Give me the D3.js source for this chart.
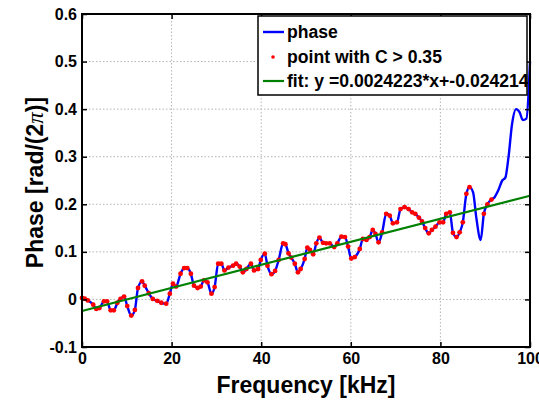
<!DOCTYPE html>
<html><head><meta charset="utf-8">
<script src="https://cdn.jsdelivr.net/npm/d3@7"></script>
<style>body{margin:0;background:#fff}svg{display:block}</style>
</head><body>
<svg id="c" width="539" height="405"></svg>
<script>
// ---- data ----
const freq = [0.0,0.6,1.3,2.5,3.2,3.9,4.9,5.6,6.4,7.1,7.9,8.6,9.4,10.1,11.0,11.8,12.5,13.4,14.0,14.9,15.8,16.8,17.7,18.8,19.6,
  20.3,21.0,22.0,22.8,23.5,24.3,25.0,25.8,26.5,27.2,28.0,28.9,29.6,30.4,31.1,31.8,32.7,33.7,34.4,35.2,35.9,36.7,37.7,38.4,39.3,39.9,
  40.8,41.4,42.3,43.1,43.9,44.9,45.4,46.1,46.7,47.5,48.2,48.8,49.7,50.3,50.9,51.6,52.3,53.0,53.8,54.5,55.3,56.3,57.0,57.9,58.7,59.4,
  60.1,60.9,62.0,62.7,63.5,64.2,64.9,65.5,66.2,67.0,67.9,68.7,69.4,70.3,71.1,72.0,72.9,73.7,74.4,75.2,75.9,76.6,77.4,78.1,78.9,79.8,
  80.6,81.3,82.1,82.8,83.6,84.3,85.0,85.8,86.5,87.3,88.0,89.0,89.7,90.5,91.4,92.1,92.9,93.8,94.5,95.2,96.0,96.9,97.7,98.4,99.2,100.0];
const phase = [0.003,0.0015,-0.002,-0.011,-0.020,-0.018,-0.004,-0.004,-0.023,-0.023,-0.007,0.001,0.006,-0.014,-0.034,-0.022,0.024,0.038,0.029,0.013,0.001,-0.003,-0.007,-0.009,0.012,
  0.033,0.027,0.054,0.066,0.066,0.054,0.029,0.024,0.027,0.040,0.036,0.012,0.026,0.075,0.075,0.061,0.067,0.071,0.075,0.069,0.057,0.064,0.075,0.061,0.064,0.083,
  0.096,0.071,0.053,0.060,0.083,0.118,0.116,0.097,0.088,0.075,0.057,0.064,0.085,0.109,0.104,0.095,0.118,0.130,0.119,0.118,0.118,0.110,0.118,0.132,0.131,0.111,
  0.086,0.089,0.106,0.127,0.125,0.131,0.146,0.138,0.120,0.141,0.180,0.176,0.160,0.162,0.190,0.194,0.190,0.183,0.180,0.172,0.164,0.150,0.139,0.146,0.153,0.162,
  0.162,0.180,0.183,0.140,0.131,0.141,0.162,0.222,0.236,0.225,0.173,0.125,0.180,0.200,0.210,0.215,0.229,0.250,0.256,0.299,0.369,0.400,0.393,0.377,0.380,0.500];
// 1 = point with C > 0.35 (red marker)
const marked = [1,1,1,1,1,1,1,1,1,1,1,1,1,1,1,1,1,1,1,1,1,1,1,1,1,
  1,1,1,1,1,1,1,1,1,1,1,1,1,1,1,1,1,1,1,1,1,1,1,1,1,1,
  1,1,1,1,1,1,1,1,1,1,1,1,1,1,1,1,1,1,1,1,1,1,1,1,1,1,
  1,1,1,1,1,1,1,1,1,1,1,1,1,1,1,1,1,1,1,1,1,1,1,1,1,1,
  1,1,1,1,1,1,1,1,1,0,0,0,1,1,1,0,0,0,0,0,0,0,0,0,0,0];
const fitSlope = 0.0024223, fitIntercept = -0.024214;
const fitRange = [0, 100];
const xTicks = [0,20,40,60,80,100];
const yTicks = [-0.1,0,0.1,0.2,0.3,0.4,0.5,0.6];
const yTickLabels = ["-0.1","0","0.1","0.2","0.3","0.4","0.5","0.6"];
const legendLabels = ["phase","point with C > 0.35","fit: y =0.0024223*x+-0.024214"];

// ---- drawing ----
const svg = d3.select("#c");
const L = 82, R = 530, T = 14, B = 347;
const x = d3.scaleLinear().domain([0,100]).range([L,R]);
const y = d3.scaleLinear().domain([-0.1,0.6]).range([B,T]);
const font = "'Liberation Sans', Arial, Helvetica, sans-serif";

// grid
const grid = svg.append("g").attr("stroke","#b4b4b4").attr("stroke-width",1).attr("stroke-dasharray","1.5,2");
xTicks.slice(1,-1).forEach(t => grid.append("line").attr("x1",x(t)).attr("x2",x(t)).attr("y1",T).attr("y2",B));
yTicks.slice(1,-1).forEach(t => grid.append("line").attr("x1",L).attr("x2",R).attr("y1",y(t)).attr("y2",y(t)));

const pts = freq.map((f,i)=>({f, p: phase[i], m: marked[i]}));

// phase line
svg.append("path").datum(pts)
  .attr("fill","none").attr("stroke","#0000ff").attr("stroke-width",2.4).attr("stroke-linejoin","round")
  .attr("d", d3.line().x(d=>x(d.f)).y(d=>y(d.p)).curve(d3.curveMonotoneX));

// red points
svg.append("g").selectAll("circle").data(pts.filter(d=>d.m)).join("circle")
  .attr("cx",d=>x(d.f)).attr("cy",d=>y(d.p)).attr("r",2.4).attr("fill","#ff0000");

// fit line
svg.append("line")
  .attr("x1",x(fitRange[0])).attr("y1",y(fitSlope*fitRange[0]+fitIntercept))
  .attr("x2",x(fitRange[1])).attr("y2",y(fitSlope*fitRange[1]+fitIntercept))
  .attr("stroke","#008000").attr("stroke-width",2.2);

// axes (box with inward ticks)
const xAxB = d3.axisBottom(x).tickValues(xTicks).tickSizeInner(-5).tickSizeOuter(0).tickPadding(6).tickFormat(d3.format("d"));
const yAxL = d3.axisLeft(y).tickValues(yTicks).tickSizeInner(-5).tickSizeOuter(0).tickPadding(5).tickFormat((d,i)=>yTickLabels[i]);
const xAxT = d3.axisTop(x).tickValues(xTicks).tickSizeInner(-5).tickSizeOuter(0).tickFormat("");
const yAxR = d3.axisRight(y).tickValues(yTicks).tickSizeInner(-5).tickSizeOuter(0).tickFormat("");
function style(g){
  g.select(".domain").remove();
  g.selectAll(".tick line").attr("stroke","#000").attr("stroke-width",1.5);
  g.selectAll("text").attr("font-family",font).attr("font-weight","bold").attr("font-size","16px").attr("fill","#000");
}
svg.append("g").attr("transform",`translate(0,${B})`).call(xAxB).call(style);
svg.append("g").attr("transform",`translate(${L},0)`).call(yAxL).call(style);
svg.append("g").attr("transform",`translate(0,${T})`).call(xAxT).call(style);
svg.append("g").attr("transform",`translate(${R},0)`).call(yAxR).call(style);
svg.append("rect").attr("x",L).attr("y",T).attr("width",R-L).attr("height",B-T)
  .attr("fill","none").attr("stroke","#000").attr("stroke-width",2);

// axis labels
svg.append("text").attr("x",(L+R)/2).attr("y",393).attr("text-anchor","middle")
  .attr("font-family",font).attr("font-weight","bold").attr("font-size","23px").text("Frequency [kHz]");
const yl = svg.append("text").attr("transform",`translate(43,${(T+B)/2+2}) rotate(-90)`).attr("text-anchor","middle")
  .attr("font-family",font).attr("font-weight","bold").attr("font-size","23px");
yl.append("tspan").text("Phase [rad/(2");
yl.append("tspan").attr("font-family","'Liberation Serif', 'DejaVu Serif', serif").attr("font-weight","normal").attr("font-style","italic").text("π");
yl.append("tspan").text(")]");

// legend
const lg = svg.append("g");
lg.append("rect").attr("x",258).attr("y",16).attr("width",269).attr("height",79)
  .attr("fill","#fff").attr("stroke","#000").attr("stroke-width",1.5);
const ly = [32,57,81];
lg.append("line").attr("x1",263).attr("x2",284).attr("y1",ly[0]).attr("y2",ly[0]).attr("stroke","#0000ff").attr("stroke-width",2.4);
lg.append("circle").attr("cx",273).attr("cy",ly[1]).attr("r",1.8).attr("fill","#ff0000");
lg.append("line").attr("x1",263).attr("x2",284).attr("y1",ly[2]).attr("y2",ly[2]).attr("stroke","#008000").attr("stroke-width",2.2);
legendLabels.forEach((t,i)=>lg.append("text").attr("x",287).attr("y",ly[i]).attr("dy","0.36em")
  .attr("font-family",font).attr("font-weight","bold").attr("font-size","17.6px").text(t));
</script>
</body></html>
